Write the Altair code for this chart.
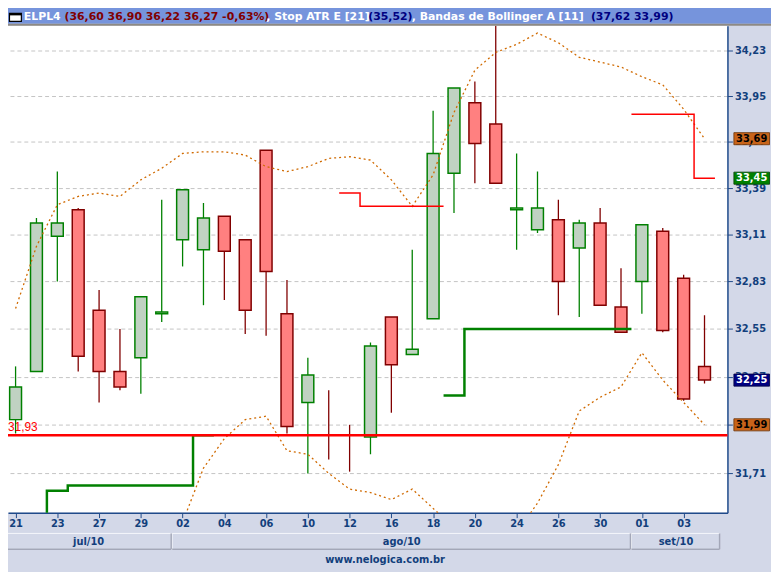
import altair as alt
import pandas as pd

# ---------------- data ----------------
dates = ["21", "22", "23", "26", "27", "28", "29", "30",
         "02", "03", "04", "05", "06", "09", "10", "11", "12", "13", "16", "17",
         "18", "19", "20", "23", "24", "25", "26", "27", "30", "31",
         "01", "02", "03", "06"]
opens = [32.02, 32.30, 33.10, 33.26, 32.66, 32.30, 32.38, 32.64, 33.08, 33.02,
         33.22, 33.08, 33.62, 32.64, 32.12, 32.00, 31.90, 31.92, 32.62, 32.40,
         32.61, 33.48, 33.91, 33.78, 33.26, 33.14, 33.20, 33.03, 33.18, 32.68,
         32.83, 33.13, 32.85, 32.33]
highs = [32.33, 33.21, 33.49, 33.27, 32.78, 32.55, 32.74, 33.32, 33.38, 33.30,
         33.22, 33.08, 33.62, 32.84, 32.38, 32.19, 31.99, 32.47, 32.62, 33.02,
         33.86, 34.00, 34.04, 34.40, 33.60, 33.49, 33.32, 33.20, 33.27, 32.91,
         33.17, 33.15, 32.87, 32.63]
lows = [31.94, 32.30, 32.83, 32.30, 32.12, 32.19, 32.17, 32.59, 32.92, 32.69,
        32.72, 32.52, 32.51, 31.94, 31.71, 31.79, 31.72, 31.82, 32.06, 32.40,
        32.61, 33.24, 33.42, 33.42, 33.02, 33.12, 32.63, 32.62, 32.69, 32.53,
        32.64, 32.53, 32.13, 32.23]
closes = [32.21, 33.18, 33.18, 32.39, 32.30, 32.21, 32.74, 32.65, 33.38, 33.21,
          33.01, 32.66, 32.89, 31.98, 32.28, 32.00, 31.90, 32.45, 32.34, 32.43,
          33.60, 34.00, 33.66, 33.42, 33.27, 33.27, 32.83, 33.18, 32.69, 32.53,
          33.17, 32.54, 32.14, 32.25]

bb_upper = [32.67, 33.04, 33.29, 33.34, 33.36, 33.34, 33.44, 33.51, 33.60, 33.61,
            33.61, 33.59, 33.52, 33.49, 33.52, 33.57, 33.58, 33.56, 33.44, 33.28,
            33.47, 33.85, 34.11, 34.22, 34.27, 34.34, 34.28, 34.19, 34.16, 34.13,
            34.07, 34.02, 33.87, 33.69]
bb_lower = [31.20, 31.25, 31.30, 31.35, 31.38, 31.36, 31.36, 31.40, 31.43, 31.74,
            31.91, 32.02, 32.04, 31.84, 31.82, 31.71, 31.62, 31.60, 31.56, 31.62,
            31.51, 31.40, 31.32, 31.30, 31.37, 31.54, 31.76, 32.07, 32.15, 32.21,
            32.41, 32.25, 32.12, 31.99]

N = None
stop_long = [N, 31.40, 31.61, 31.64, 31.64, 31.64, 31.64, 31.64, 31.64, 31.93,
             N, N, N, N, N, N, N, N, N, N,
             N, 32.16, 32.55, 32.55, 32.55, 32.55, 32.55, 32.55, 32.55, 32.55,
             N, N, N, N]
stop_short = [N, N, N, N, N, N, N, N, N, N,
              N, N, N, N, N, N, 33.36, 33.28, 33.28, 33.28,
              33.28, N, N, N, N, N, N, N, N, N,
              33.84, 33.84, 33.84, 33.45]

hline_value = [31.93]
y_ticks = [34.23, 33.95, 33.67, 33.39, 33.11, 32.83, 32.55, 32.27, 31.99, 31.71]
months = ["jul/10", "ago/10", "set/10"]
month_edges = [-0.5, 7.5, 29.5, 33.77]

header_segments = [
    ("ELPL4", "white"),
    ("(36,60 36,90 36,22 36,27 -0,63%)", "red"),
    (", Stop ATR E [21]", "white"),
    ("(35,52)", "navy"),
    (", Bandas de Bollinger A [11]", "white"),
    ("(37,62 33,99)", "navy"),
]
header_x = [24, 65, 269, 372, 416, 597]  # page x of each segment

# ---------------- style ----------------
BG = "#d3d8e8"
AXIS_LINE = "#1f4a8a"
LABEL = "#123f7c"
HEADER = "#7694dc"
FONT = "DejaVu Sans"
OX, OY = 8, 23  # page position of the plot origin
W, H = 727, 492

n = len(dates)
X_SCALE = alt.Scale(domain=[-0.126, 33.862], nice=False, zero=False)
Y_SCALE = alt.Scale(type="log", domain=[31.4854, 34.3855], nice=False, zero=False)

x_label_expr = "[" + ",".join("'%s'" % d for d in dates) + "][datum.value]"
X_AXIS = alt.Axis(values=list(range(0, n, 2)), labelExpr=x_label_expr, grid=False,
                  domainColor=AXIS_LINE, domainWidth=1.5, tickColor=AXIS_LINE,
                  tickSize=5, labelPadding=1, labelColor=LABEL, labelFont=FONT,
                  labelFontWeight="bold", labelFontSize=10, labelFlush=False,
                  labelOverlap=False, title=None)
Y_AXIS = alt.Axis(orient="right", values=y_ticks,
                  labelExpr="replace(format(datum.value, '.2f'), '.', ',')",
                  grid=True, gridDash=[4, 3], gridColor="#c4c4c4",
                  domainColor=AXIS_LINE, domainWidth=1.5, tickColor=AXIS_LINE,
                  tickSize=5, labelPadding=2, labelColor=LABEL, labelFont=FONT,
                  labelFontWeight="bold", labelFontSize=10, labelFlush=False,
                  labelOverlap=False, title=None)


def X(field):
    return alt.X(field, type="quantitative", scale=X_SCALE, axis=X_AXIS)


def Y(field):
    return alt.Y(field, type="quantitative", scale=Y_SCALE, axis=Y_AXIS)


# ---------------- tables ----------------
candles = pd.DataFrame({"i": range(n), "o": opens, "h": highs, "l": lows, "c": closes})
candles["dir"] = ["up" if c > o else "down" for o, c in zip(opens, closes)]

bands = pd.concat([
    pd.DataFrame({"i": range(n), "v": bb_upper, "band": "upper"}),
    pd.DataFrame({"i": range(n), "v": bb_lower, "band": "lower"}),
])


def step_rows(values):
    rows, run, prev = [], 0, None
    for i, v in enumerate(values):
        if v is None:
            prev = None
            continue
        if prev is None:
            run += 1
        rows.append({"x": i - 0.5, "v": v, "run": run, "k": 2 * i})
        rows.append({"x": i + 0.5, "v": v, "run": run, "k": 2 * i + 1})
        prev = v
    return pd.DataFrame(rows)


long_df = step_rows(stop_long)
short_df = step_rows(stop_short)
hline_df = pd.DataFrame({"v": hline_value,
                         "t": [("%.2f" % v).replace(".", ",") for v in hline_value]})

last_short = [v for v in stop_short if v is not None][-1]
badge_vals = {"band_up": bb_upper[-1], "stop": last_short,
              "close": closes[-1], "band_low": bb_lower[-1]}
badge_style = {"band_up": ("#c8641a", "#000000", "#6a3000"),
               "stop": ("#008000", "#ffffff", "#004000"),
               "close": ("#000080", "#ffffff", "#000040"),
               "band_low": ("#c8641a", "#000000", "#6a3000")}

month_df = pd.DataFrame({"m": months, "x0": month_edges[:-1], "x1": month_edges[1:]})
month_df["xc"] = (month_df["x0"] + month_df["x1"]) / 2

one = pd.DataFrame({"a": [0]})

dir_stroke = alt.Scale(domain=["up", "down"], range=["#008000", "#800000"])
dir_fill = alt.Scale(domain=["up", "down"], range=["#c0d2c2", "#ff8080"])

# ---------------- layers ----------------
wicks = alt.Chart(candles).mark_rule(strokeWidth=1.3, clip=True).encode(
    x=X("i"), y=Y("l"), y2="h:Q",
    stroke=alt.Stroke("dir:N", scale=dir_stroke, legend=None))

# a candle whose open equals its close has no body drawn
bodies = alt.Chart(candles).transform_filter("datum.o != datum.c").mark_bar(
    width=12, strokeWidth=1.5, clip=True).encode(
    x=X("i"), y=Y("o"), y2="c:Q",
    fill=alt.Fill("dir:N", scale=dir_fill, legend=None),
    stroke=alt.Stroke("dir:N", scale=dir_stroke, legend=None))

band_lines = alt.Chart(bands).mark_line(
    strokeDash=[2, 3], strokeWidth=1.3, color="#d06a00", clip=True).encode(
    x=X("i"), y=Y("v"), detail="band:N")

long_line = alt.Chart(long_df).mark_line(color="#008000", strokeWidth=2.5, clip=True).encode(
    x=X("x"), y=Y("v"), detail="run:N", order="k:Q")

short_line = alt.Chart(short_df).mark_line(color="#ff0000", strokeWidth=1.5, clip=True).encode(
    x=X("x"), y=Y("v"), detail="run:N", order="k:Q")

hline = alt.Chart(hline_df).mark_rule(color="#ff0000", strokeWidth=2.5).encode(y=Y("v"))

hline_label = alt.Chart(hline_df).mark_text(
    align="left", baseline="bottom", color="#ff0000", font="Liberation Sans",
    fontSize=12, dy=-1).encode(x=alt.value(0), y=Y("v"), text="t:N")

badge_layers = []
for kind, val in badge_vals.items():
    fill, tcol, scol = badge_style[kind]
    bdf = pd.DataFrame({"v": [val], "t": [("%.2f" % val).replace(".", ",")]})
    badge_layers.append(alt.Chart(bdf).mark_point(
        shape="M-1,-0.34H1V0.34H-1Z", size=1296, filled=True, opacity=1,
        fill=fill, stroke=scol, strokeWidth=0.8).encode(x=alt.value(751.5), y=Y("v")))
    badge_layers.append(alt.Chart(bdf).mark_text(
        font=FONT, fontWeight="bold", fontSize=10, align="center", baseline="middle",
        color=tcol).encode(x=alt.value(751.5), y=Y("v"), text="t:N"))

# header
header_bg = alt.Chart(one).mark_rect(color=HEADER).encode(
    x=alt.value(-OX), x2=alt.value(W + 60), y=alt.value(-OY), y2=alt.value(-2))
header_line = alt.Chart(one).mark_rule(color="#8e8a84", strokeWidth=2).encode(
    x=alt.value(-OX), x2=alt.value(W + 60), y=alt.value(-1))
icon = alt.Chart(one).mark_rect(fill="white", stroke="black", strokeWidth=1.2).encode(
    x=alt.value(1.5), x2=alt.value(13.5), y=alt.value(-12.5), y2=alt.value(-4.5))
icon_bar = alt.Chart(one).mark_rule(color="black", strokeWidth=2).encode(
    x=alt.value(1.5), x2=alt.value(13.5), y=alt.value(-11.5))
hdr_colors = {"white": "#ffffff", "red": "#800000", "navy": "#000080"}
header_texts = [
    alt.Chart(one).mark_text(text=t, align="left", baseline="middle", font=FONT,
                             fontWeight="bold", fontSize=11, color=hdr_colors[c]).encode(
        x=alt.value(px - OX), y=alt.value(-8.5))
    for (t, c), px in zip(header_segments, header_x)
]

# bottom month buttons
btn = alt.Chart(month_df).mark_rect(fill=BG, stroke="#f5f6fb", strokeWidth=1, x2Offset=-1).encode(
    x=X("x0"), x2="x1:Q", y=alt.value(513), y2=alt.value(529))
btn_bottom = alt.Chart(month_df).mark_rule(color="#a3a7b8", strokeWidth=1.5, x2Offset=-1).encode(
    x=X("x0"), x2="x1:Q", y=alt.value(529))
btn_right = alt.Chart(month_df).mark_rule(color="#a3a7b8", strokeWidth=1.5, xOffset=-1).encode(
    x=X("x1"), y=alt.value(513), y2=alt.value(529))
btn_text = alt.Chart(month_df).mark_text(font=FONT, fontWeight="bold", fontSize=10,
                                         color=LABEL, baseline="middle").encode(
    x=X("xc"), y=alt.value(521.5), text="m:N")
site = alt.Chart(one).mark_text(text="www.nelogica.com.br", font=FONT, fontWeight="bold",
                                fontSize=10, color=LABEL, baseline="middle").encode(
    x=alt.value(381), y=alt.value(540))

chart = alt.layer(
    wicks, bodies, band_lines, long_line, short_line, hline, hline_label,
    *badge_layers, header_bg, header_line, icon, icon_bar, *header_texts,
    btn, btn_bottom, btn_right, btn_text, site,
).properties(
    width=W, height=H, background=BG,
    padding={"left": 0, "top": OY - 8, "right": 44, "bottom": 57},
    autosize=alt.AutoSizeParams(type="none"),
).configure_view(fill="white", stroke=None)

chart.save("out.html", embed_options={"renderer": "svg", "actions": False})
